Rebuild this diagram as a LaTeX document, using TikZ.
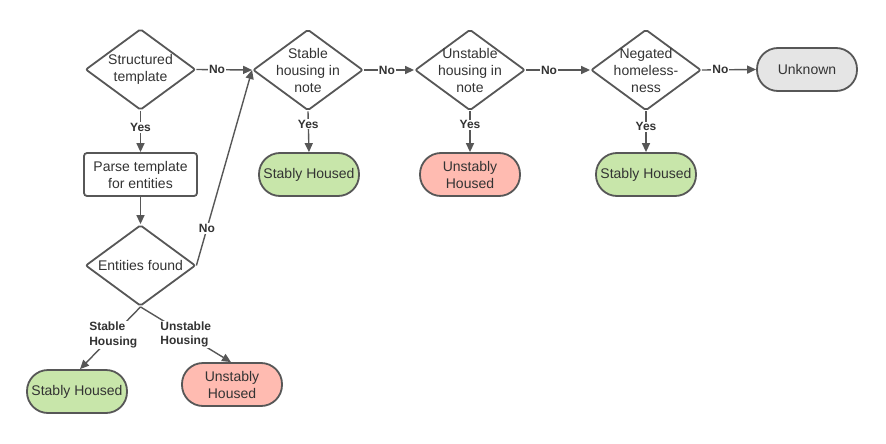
\documentclass[tikz,border=0pt]{standalone}
\usepackage{fontspec}
\setmainfont{Liberation Sans}
\usetikzlibrary{shapes.geometric,arrows.meta}
\definecolor{edgegray}{HTML}{575757}
\definecolor{ink}{HTML}{333333}
\definecolor{stablefill}{HTML}{C8E6AA}
\definecolor{unstablefill}{HTML}{FFBBB1}
\definecolor{unknownfill}{HTML}{E5E5E5}
\tikzset{
  decision/.style={shape=diamond, draw=edgegray, line width=1.8pt, fill=white,
    minimum width=110pt, minimum height=81pt, inner sep=0pt, rounded corners=2pt},
  dtext/.style={font=\fontsize{14}{17}\selectfont, text=ink, align=center},
  process/.style={draw=edgegray, line width=1.8pt, fill=white, rounded corners=3pt,
    minimum width=113pt, minimum height=43pt, inner sep=2pt, align=center,
    font=\fontsize{14}{17}\selectfont, text=ink},
  terminal/.style={draw=edgegray, line width=1.8pt, rounded corners=21pt,
    minimum width=100pt, minimum height=43pt, inner sep=2pt, align=center,
    font=\fontsize{14}{17}\selectfont, text=ink},
  stable/.style={terminal, fill=stablefill},
  unstable/.style={terminal, fill=unstablefill},
  unknown/.style={terminal, fill=unknownfill},
  flow/.style={draw=edgegray, line width=1.4pt, -{Triangle[length=9pt,width=8pt]}},
  elabel/.style={font=\fontsize{12}{14.5}\selectfont\bfseries, text=ink, fill=white,
    inner sep=1pt, align=center},
}
\begin{document}
\begin{tikzpicture}[x=1pt,y=-1pt]
\useasboundingbox (0,0) rectangle (886,444);

% decision diamonds
\node[decision, label={[dtext]center:Structured\\template}] (d1) at (140.5,69.5) {};
\node[decision, label={[dtext]center:Stable\\housing in\\note}] (d2) at (308,70) {};
\node[decision, label={[dtext]center:Unstable\\housing in\\note}] (d3) at (470,70) {};
\node[decision, label={[dtext]center:Negated\\homeless-\\ness}] (d4) at (646,70) {};
\node[decision, label={[dtext]center:Entities found}] (d5) at (140.5,265.5) {};

% process step
\node[process] (parse) at (140.5,174.5) {Parse template\\for entities};

% outcomes
\node[unknown] (unk) at (807,69.5) {Unknown};
\node[stable] (s1) at (309,174.5) {Stably Housed};
\node[unstable] (u1) at (470,174.5) {Unstably\\Housed};
\node[stable] (s2) at (646,174.5) {Stably Housed};
\node[stable] (s3) at (77,391.5) {Stably Housed};
\node[unstable] (u2) at (232,384.5) {Unstably\\Housed};

% top row: "No" branches
\draw[flow] (d1.east) -- node[elabel, pos=0.37] {No} (d2.west);
\draw[flow] (d2.east) -- node[elabel, pos=0.46] {No} (d3.west);
\draw[flow] (d3.east) -- node[elabel, pos=0.36] {No} (d4.west);
\draw[flow] (d4.east) -- node[elabel, pos=0.34] {No} (unk.west);

% "Yes" branches
\draw[flow] (d1.south) -- node[elabel, pos=0.4] {Yes} (parse.north);
\draw[flow] (d2.south) -- node[elabel, pos=0.31] {Yes} (s1.north);
\draw[flow] (d3.south) -- node[elabel, pos=0.33] {Yes} (u1.north);
\draw[flow] (d4.south) -- node[elabel, pos=0.38] {Yes} (s2.north);

% template path
\draw[flow] (parse.south) -- (d5.north);
\draw[flow] (d5.east) -- node[elabel, pos=0.19] {No} (d2.west);
\draw[flow] (d5.south) -- node[elabel, align=left, pos=0.45] {Stable\\Housing} ([xshift=3pt]s3.north);
\draw[flow] (d5.south) -- node[elabel, align=left, pos=0.5] {Unstable\\Housing} ([xshift=-1pt]u2.north);
\end{tikzpicture}
\end{document}
